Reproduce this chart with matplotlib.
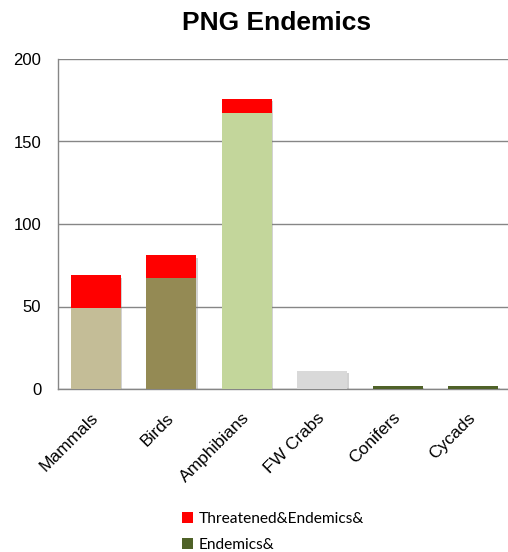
import matplotlib.pyplot as plt
import matplotlib.patheffects as pe
from matplotlib.patches import Patch
import numpy as np

# especies endémicas de PNG por grupo

groups = ["Mammals", "Birds", "Amphibians", "FW Crabs", "Conifers", "Cycads"]
endemics = [49, 67, 167, 11, 2, 2]
threatened = [20, 14, 9, 0, 0, 0]
group_colors = ["#C4BD97", "#948A54", "#C3D69B", "#D9D9D9", "#4F6228", "#4F6228"]

plt.rcParams["font.family"] = ["Liberation Sans", "DejaVu Sans"]

fig = plt.figure(figsize=(5.08, 5.52), dpi=100)
ax = fig.add_axes([58 / 508, 1 - 389 / 552, 453 / 508, 330 / 552])

x = np.arange(len(groups))
width = 0.66
totals = np.array(endemics) + np.array(threatened)

# sombra de cada columna completa (solo se dibuja la sombra)
sh = ax.bar(x, totals, width, color="none", zorder=2)
for r in sh:
    r.set_path_effects([pe.SimplePatchShadow(offset=(1.2, -1.8), shadow_rgbFace="#7f7f7f", alpha=0.35)])

ax.bar(x, endemics, width, color=group_colors, zorder=3)
top = ax.bar(x, threatened, width, bottom=endemics, color="#FF0000", zorder=3)
for r in top:
    if r.get_height() == 0:
        r.set_visible(False)

ax.set_xlim(-0.5, 5.5)
ax.set_ylim(0, 200)
ax.set_yticks([0, 50, 100, 150, 200])
ax.yaxis.grid(True, color="#868686", linewidth=1.0, zorder=0)
ax.set_axisbelow(True)
for side in ["top", "right"]:
    ax.spines[side].set_visible(False)
for side in ["left", "bottom"]:
    ax.spines[side].set_color("#868686")
    ax.spines[side].set_linewidth(1.0)
ax.tick_params(axis="y", length=0, pad=12, labelsize=12)
ax.tick_params(axis="x", length=0, pad=19, labelsize=12.5)
ax.set_xticks(x)
ax.set_xticklabels(groups, rotation=45, ha="right", va="center", rotation_mode="anchor")

fig.text(0.545, 1 - 23 / 552, "PNG Endemics", ha="center", va="center",
         fontsize=19, fontweight="bold")

handles = [Patch(facecolor="#FF0000", label="Threatened&Endemics&"),
           Patch(facecolor="#4F6228", label="Endemics&")]
fig.legend(handles=handles, loc="upper left", bbox_to_anchor=(176 / 508, 1 - 506 / 552),
           frameon=False, handlelength=0.7, handleheight=0.7,
           handletextpad=0.35, labelspacing=0.75, borderaxespad=0,
           prop={"family": ["Lato", "DejaVu Sans"], "size": 11.2})

plt.savefig("out.png", dpi=100)
plt.close()
